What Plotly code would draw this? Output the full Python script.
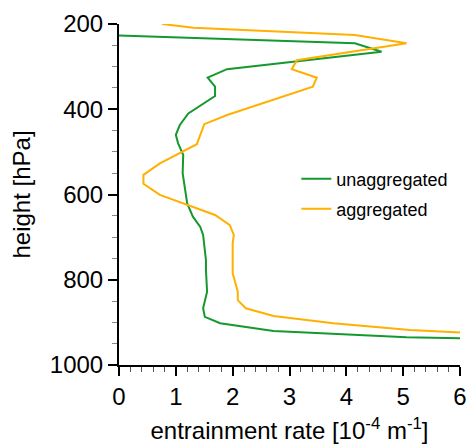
import plotly.graph_objects as go

# unaggregated profile (entrainment rate, pressure level)
unagg_rate = [0.00, 4.15, 4.62, 1.90, 1.56, 1.69, 1.69, 1.22, 1.07, 1.00, 1.04, 1.13,
              1.12, 1.20, 1.30, 1.43, 1.48, 1.53, 1.53, 1.55, 1.48, 1.51, 1.78, 2.72,
              5.06, 6.00]
unagg_p = [227, 245, 265, 306, 326, 347, 369, 410, 437, 460, 480, 507,
           550, 621, 652, 676, 695, 754, 777, 828, 867, 887, 902, 920,
           935, 937]

# aggregated profile
agg_rate = [0.76, 1.31, 4.15, 5.06, 3.13, 3.04, 3.48, 3.41, 1.89, 1.50, 1.37, 0.72,
            0.43, 0.43, 0.72, 1.69, 1.95, 2.02, 2.00, 2.00, 2.09, 2.09, 2.23, 2.72,
            3.77, 5.12, 6.00]
agg_p = [200, 209, 226, 245, 285, 306, 326, 347, 414, 435, 482, 527,
         554, 575, 601, 648, 672, 695, 715, 785, 828, 848, 867, 885,
         902, 918, 924]

FONT = "Liberation Sans, Arial, Helvetica, sans-serif"

fig = go.Figure()
fig.add_trace(go.Scatter(x=unagg_rate, y=unagg_p, mode="lines", name="unaggregated",
                         line=dict(color="#14992e", width=2), legend="legend", showlegend=True))
fig.add_trace(go.Scatter(x=agg_rate, y=agg_p, mode="lines", name="aggregated",
                         line=dict(color="#ffb000", width=2), legend="legend2", showlegend=True))

axis_common = dict(showgrid=False, zeroline=False, showline=True, linecolor="black",
                   linewidth=2, ticks="outside", ticklen=9, tickwidth=1.5, automargin=False,
                   tickcolor="black", tickfont=dict(family=FONT, size=24, color="black"))

fig.update_xaxes(range=[0, 6], dtick=1, tick0=0,
                 minor=dict(dtick=0.2, ticks="outside", ticklen=5, tickcolor="#555", tickwidth=1),
                 title=dict(text="entrainment rate [10<sup>-4</sup> m<sup>-1</sup>]",
                            font=dict(family=FONT, size=24, color="black"), standoff=14),
                 **axis_common)
fig.update_yaxes(range=[1000, 200], dtick=200, tick0=200,
                 minor=dict(dtick=50, ticks="outside", ticklen=5, tickcolor="#888", tickwidth=1),
                 title=dict(text="height [hPa]",
                            font=dict(family=FONT, size=24, color="black"), standoff=12),
                 **axis_common)

leg = dict(font=dict(family=FONT, size=18, color="black"), bgcolor="rgba(0,0,0,0)",
           xanchor="left", yanchor="middle", itemwidth=30)
fig.update_layout(
    width=470, height=444,
    margin=dict(l=119, r=10, t=24, b=79),
    paper_bgcolor="white", plot_bgcolor="white",
    showlegend=True,
    legend=dict(x=0.52, y=0.5455, **leg),
    legend2=dict(x=0.52, y=0.4575, **leg),
)

fig.write_html("out.html")
